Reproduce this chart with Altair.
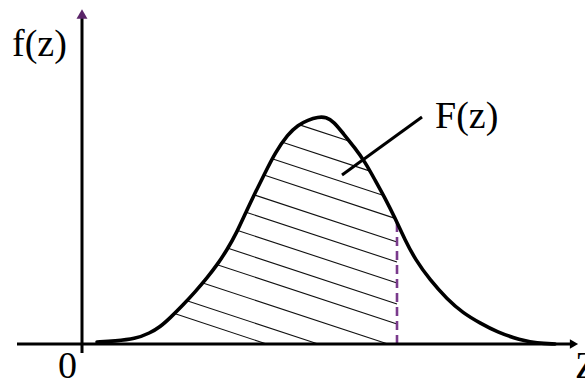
import altair as alt
import numpy as np
import pandas as pd

# Density curve f(z), sampled along z
curve_z = [0.30, 0.66, 1.06, 1.36, 1.56, 1.76, 2.02, 2.26, 2.50, 2.70, 2.90, 3.10,
           3.30, 3.46, 3.66, 3.86, 4.12, 4.32, 4.52, 4.72, 4.88, 5.04, 5.20, 5.46,
           5.66, 5.86, 6.06, 6.26, 6.46, 6.66, 6.96, 7.30, 7.62, 7.96, 8.30, 8.76,
           9.10, 9.46]
curve_f = [0.02, 0.03, 0.05, 0.11, 0.17, 0.26, 0.39, 0.52, 0.66, 0.79, 0.94, 1.12,
           1.34, 1.51, 1.71, 1.91, 2.10, 2.19, 2.24, 2.27, 2.27, 2.22, 2.12, 1.96,
           1.82, 1.64, 1.46, 1.26, 1.04, 0.85, 0.64, 0.45, 0.31, 0.21, 0.12, 0.04,
           0.01, 0.00]

# Upper limit of the shaded region F(z)
z_cut = 6.30

# Hatching: level of each stroke where it meets z = z_cut, and its common slope
hatch_levels = [1.87, 1.64, 1.44, 1.25, 1.02, 0.82, 0.61, 0.40, 0.20, -0.03, -0.26, -0.43]
hatch_slope = 0.165

# Axis extents
x_axis = [-1.30, 9.80]
y_axis = [-0.09, 3.26]

FONT = "Liberation Serif"
PURPLE = "#5a2468"
DASH = "#7a3a8c"

X = alt.Scale(domain=[-1.64, 10.06], nice=False, zero=False)
Y = alt.Scale(domain=[-0.38, 3.44], nice=False, zero=False)


def xe(field):
    return alt.X(field, type="quantitative", scale=X, axis=None)


def ye(field):
    return alt.Y(field, type="quantitative", scale=Y, axis=None)


curve = pd.DataFrame({"z": curve_z, "f": curve_f})

# clip each hatch stroke to the area under the curve, above z-axis, left of z_cut
zs = np.linspace(0.0, z_cut, 4000)
fc = np.interp(zs, curve_z, curve_f)
segs = []
for c in hatch_levels:
    fl = c + hatch_slope * (z_cut - zs)
    inside = (fl < fc) & (fl > 0)
    if inside.any():
        idx = np.where(inside)[0]
        i0, i1 = idx[0], idx[-1]
        segs.append({"z": zs[i0], "f": fl[i0], "z2": zs[i1], "f2": max(fl[i1], 0.0)})
hatch = pd.DataFrame(segs)

f_cut = float(np.interp(z_cut, curve_z, curve_f))
cut = pd.DataFrame({"z": [z_cut], "f": [0.0], "f2": [f_cut]})

axes_h = pd.DataFrame({"z": [x_axis[0]], "z2": [x_axis[1]], "f": [0.0]})
axes_v = pd.DataFrame({"z": [0.0], "f": [y_axis[0]], "f2": [y_axis[1]]})

hatch_layer = alt.Chart(hatch).mark_rule(color="#111111", strokeWidth=1.1).encode(
    x=xe("z"), y=ye("f"), x2="z2", y2="f2")

cut_layer = alt.Chart(cut).mark_rule(color=DASH, strokeWidth=2.6, strokeDash=[9, 5]).encode(
    x=xe("z"), y=ye("f"), y2="f2")

curve_layer = alt.Chart(curve).mark_line(
    color="black", strokeWidth=3.6, interpolate="basis", strokeCap="round"
).encode(x=xe("z"), y=ye("f"))

h_axis = alt.Chart(axes_h).mark_rule(color="black", strokeWidth=3).encode(
    x=xe("z"), x2="z2", y=ye("f"))
v_axis = alt.Chart(axes_v).mark_rule(color="black", strokeWidth=3).encode(
    x=xe("z"), y=ye("f"), y2="f2")

arrow_r = alt.Chart(pd.DataFrame({"z": [9.84], "f": [0.0]})).mark_point(
    shape="triangle-right", filled=True, size=90, color="black", opacity=1
).encode(x=xe("z"), y=ye("f"))
arrow_u = alt.Chart(pd.DataFrame({"z": [0.0], "f": [3.30]})).mark_point(
    shape="triangle-up", filled=True, size=120, color=PURPLE, opacity=1
).encode(x=xe("z"), y=ye("f"))

# leader from the shaded area to its label
leader = alt.Chart(pd.DataFrame({"z": [5.20], "f": [1.69], "z2": [6.80], "f2": [2.27]})).mark_rule(
    color="black", strokeWidth=3).encode(x=xe("z"), y=ye("f"), x2="z2", y2="f2")

labels = pd.DataFrame({
    "z": [-1.40, 7.06, -0.48, 9.86],
    "f": [2.88, 2.16, -0.34, -0.34],
    "t": ["f(z)", "F(z)", "0", "Z"],
})
text_layer = alt.Chart(labels).mark_text(
    font=FONT, fontSize=38, align="left", baseline="alphabetic", color="black"
).encode(x=xe("z"), y=ye("f"), text="t:N")

chart = alt.layer(
    hatch_layer, cut_layer, curve_layer, h_axis, v_axis, arrow_r, arrow_u, leader, text_layer
).properties(
    width=585, height=382, padding=0, autosize=alt.AutoSizeParams(type="none"),
    background="white"
).configure_view(stroke=None)

chart.save("out.html", embed_options={"renderer": "svg", "actions": False})
